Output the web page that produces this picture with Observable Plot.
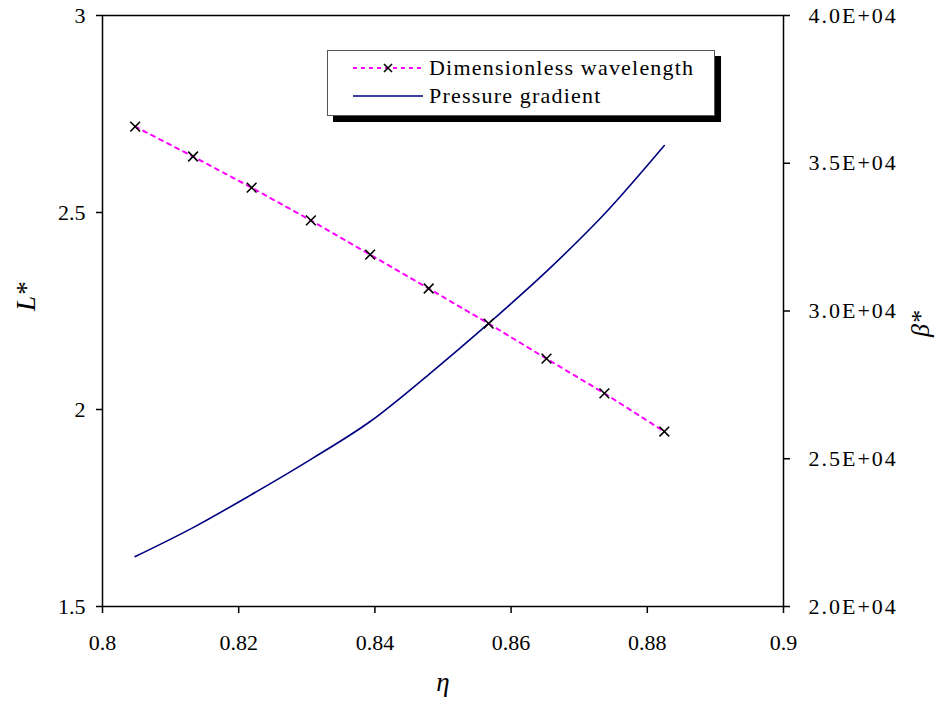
<!DOCTYPE html>
<html>
<head>
<meta charset="utf-8">
<script src="https://cdn.jsdelivr.net/npm/d3@7"></script>
<script src="https://cdn.jsdelivr.net/npm/@observablehq/plot@0.6"></script>
<style>
  body { margin: 0; background: white; }
  #wrap { position: relative; width: 936px; height: 715px; }
  #chart svg, #chart svg text { font-family: "Liberation Serif", "Times New Roman", serif !important; }
  #legend {
    position: absolute; left: 327px; top: 50px; width: 386px; height: 64px;
    border: 1px solid #555; background: white; box-shadow: 6px 6px 0 #000;
    font-family: "Liberation Serif", "Times New Roman", serif; font-size: 22px; letter-spacing: 1.2px; color: #000;
  }
  .row { position: absolute; left: 0; display: flex; align-items: center; }
  .row svg { margin-left: 25px; margin-right: 6px; }
</style>
</head>
<body>
<div id="wrap">
  <div id="chart"></div>
  <div id="legend">
    <div class="row" style="top:4px">
      <svg width="70" height="24"><line x1="0" y1="12" x2="70" y2="12" stroke="#ff00ff" stroke-width="2" stroke-dasharray="4,4"/><path d="M31,8L39,16M39,8L31,16" stroke="black" stroke-width="1.6"/></svg>
      <span>Dimensionless wavelength</span>
    </div>
    <div class="row" style="top:32px">
      <svg width="70" height="24"><line x1="0" y1="12" x2="70" y2="12" stroke="#000080" stroke-width="1.6"/></svg>
      <span>Pressure gradient</span>
    </div>
  </div>
</div>
<script>
// Data
const eta   = [0.8048, 0.8133, 0.8219, 0.8306, 0.8393, 0.8479, 0.8567, 0.8652, 0.8737, 0.8825];
const Lstar = [2.718, 2.642, 2.563, 2.480, 2.393, 2.307, 2.218, 2.129, 2.041, 1.944];
const beta  = [21690, 22670, 23790, 24980, 26260, 27850, 29580, 31340, 33280, 35600];

const xTicks = [0.8, 0.82, 0.84, 0.86, 0.88, 0.9];
const xTickLabels = ["0.8", "0.82", "0.84", "0.86", "0.88", "0.9"];
const yTicks = [1.5, 2, 2.5, 3];
const yTickLabels = ["1.5", "2", "2.5", "3"];
const betaTicks = [20000, 25000, 30000, 35000, 40000];
const betaTickLabels = ["2.0E+04", "2.5E+04", "3.0E+04", "3.5E+04", "4.0E+04"];

const yDomain = [1.5, 3];
const betaDomain = [20000, 40000];
// map beta onto the left-axis scale (secondary axis)
const b2y = b => yDomain[0] + (b - betaDomain[0]) / (betaDomain[1] - betaDomain[0]) * (yDomain[1] - yDomain[0]);

const L = eta.map((e, i) => ({eta: e, L: Lstar[i]}));
const B = eta.map((e, i) => ({eta: e, y: b2y(beta[i])}));

const chart = Plot.plot({
  width: 936, height: 715,
  marginLeft: 102, marginRight: 153, marginTop: 15, marginBottom: 109,
  style: {fontFamily: "'Liberation Serif', serif", fontSize: "22px", background: "white", color: "black"},
  x: {domain: [0.8, 0.9]},
  y: {domain: yDomain},
  marks: [
    Plot.axisX({ticks: xTicks, tickFormat: d => xTickLabels[xTicks.indexOf(d)], tickSize: 7, tickPadding: 21, label: null, strokeWidth: 1.5}),
    Plot.axisY({ticks: yTicks, tickFormat: d => yTickLabels[yTicks.indexOf(d)], tickSize: 6, tickPadding: 11, label: null, strokeWidth: 1.5}),
    Plot.axisY({anchor: "right", ticks: betaTicks.map(b2y), tickFormat: (d, i) => betaTickLabels[i], tickSize: 6, tickPadding: 19, label: null, strokeWidth: 1.5}),
    Plot.frame({stroke: "black", strokeWidth: 1.5}),
    Plot.line(B, {x: "eta", y: "y", stroke: "#000080", strokeWidth: 1.6, curve: "monotone-x"}),
    Plot.line(L, {x: "eta", y: "L", stroke: "#ff00ff", strokeWidth: 2, strokeDasharray: "4,5"}),
    Plot.dot(L, {x: "eta", y: "L", symbol: "times", r: 4.5, stroke: "black", strokeWidth: 1.6}),
    Plot.text(["η"], {frameAnchor: "bottom", dy: 84, fontStyle: "italic", fontSize: 27}),
    Plot.text(["L*"], {frameAnchor: "left", dx: -76, rotate: -90, fontStyle: "italic", fontSize: 27}),
    Plot.text(["β*"], {frameAnchor: "right", dx: 137, rotate: -90, fontStyle: "italic", fontSize: 26})
  ]
});
document.getElementById("chart").appendChild(chart);
// widen the right-axis labels slightly, as in the reference
const yLabelGroups = chart.querySelectorAll('g[aria-label="y-axis tick label"]');
if (yLabelGroups.length > 1) yLabelGroups[yLabelGroups.length - 1].setAttribute("letter-spacing", "2px");
</script>
</body>
</html>
